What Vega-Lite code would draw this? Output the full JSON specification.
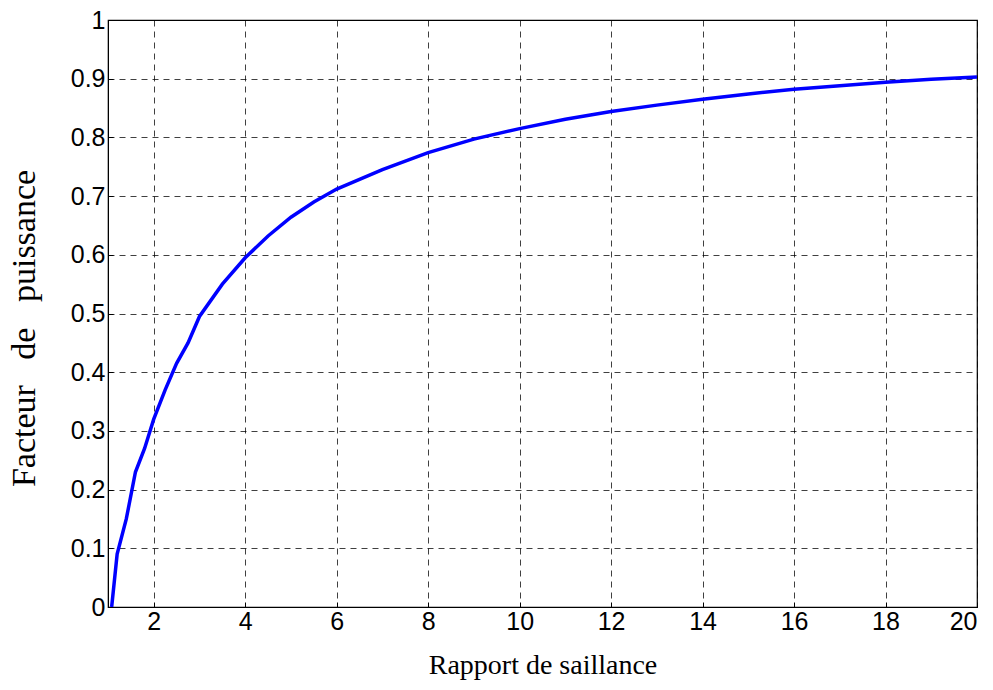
{
  "$schema": "https://vega.github.io/schema/vega-lite/v6.json",
  "width": 869,
  "height": 587,
  "autosize": {"type": "none"},
  "padding": {"left": 108, "top": 20, "right": 16, "bottom": 83},
  "background": "white",
  "config": {
    "view": {"stroke": "black", "strokeWidth": 1.2},
    "axis": {
      "labelFont": "Liberation Sans",
      "labelFontSize": 25,
      "labelColor": "black",
      "titleFont": "Liberation Serif",
      "titleFontSize": 28,
      "titleFontWeight": "normal",
      "titleColor": "black",
      "grid": true,
      "gridColor": "black",
      "gridDash": [6, 5],
      "gridOpacity": 0.75,
      "gridWidth": 1,
      "domainColor": "black",
      "tickColor": "black",
      "tickSize": -5
    }
  },
  "data": {
    "values": [
      {"x": 1.08, "y": 0},
      {"x": 1.2, "y": 0.09},
      {"x": 1.4, "y": 0.15},
      {"x": 1.6, "y": 0.23},
      {"x": 1.8, "y": 0.27},
      {"x": 2.0, "y": 0.32},
      {"x": 2.25, "y": 0.37},
      {"x": 2.5, "y": 0.415},
      {"x": 2.75, "y": 0.45},
      {"x": 3.0, "y": 0.495},
      {"x": 3.5, "y": 0.55},
      {"x": 4.0, "y": 0.595},
      {"x": 4.5, "y": 0.632},
      {"x": 5.0, "y": 0.664},
      {"x": 5.5, "y": 0.69},
      {"x": 6.0, "y": 0.712},
      {"x": 7.0, "y": 0.745},
      {"x": 8.0, "y": 0.774},
      {"x": 9.0, "y": 0.797},
      {"x": 10.0, "y": 0.815},
      {"x": 11.0, "y": 0.831},
      {"x": 12.0, "y": 0.844},
      {"x": 13.0, "y": 0.855},
      {"x": 14.0, "y": 0.865},
      {"x": 15.0, "y": 0.874},
      {"x": 16.0, "y": 0.882},
      {"x": 17.0, "y": 0.888},
      {"x": 18.0, "y": 0.894},
      {"x": 19.0, "y": 0.899},
      {"x": 20.0, "y": 0.903}
    ]
  },
  "mark": {"type": "line", "color": "#0000ff", "strokeWidth": 3.5, "clip": true},
  "encoding": {
    "x": {
      "field": "x",
      "type": "quantitative",
      "scale": {"domain": [1, 20], "nice": false, "zero": false},
      "axis": {
        "title": "Rapport de saillance",
        "values": [2, 4, 6, 8, 10, 12, 14, 16, 18, 20],
        "format": "~g",
        "labelPadding": 7,
        "titlePadding": 17
      }
    },
    "y": {
      "field": "y",
      "type": "quantitative",
      "scale": {"domain": [0, 1], "nice": false},
      "axis": {
        "title": "Facteur\u00a0\u00a0 de\u00a0\u00a0 puissance",
        "titleFontSize": 34,
        "titleY": 308,
        "values": [0, 0.1, 0.2, 0.3, 0.4, 0.5, 0.6, 0.7, 0.8, 0.9, 1],
        "format": "~g",
        "labelPadding": 8,
        "titlePadding": 29
      }
    }
  }
}
